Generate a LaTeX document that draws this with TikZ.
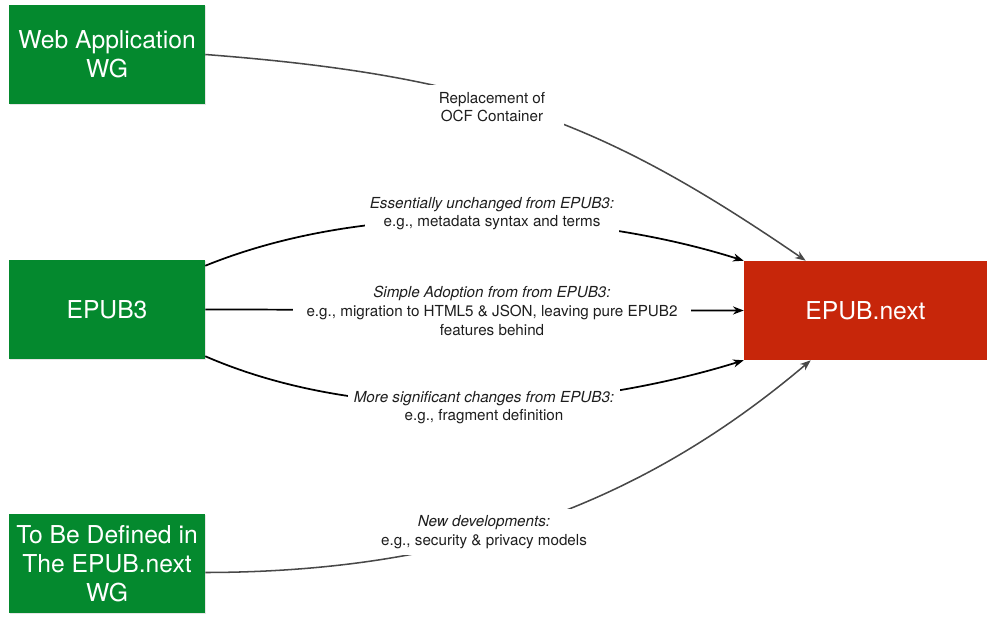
\documentclass[tikz,border=0pt]{standalone}
\usepackage{fontspec}
\setmainfont{TeX Gyre Heros}
\usetikzlibrary{arrows.meta,calc,shadows}
\definecolor{boxgreen}{RGB}{4,137,46}
\definecolor{boxred}{RGB}{199,38,10}
\definecolor{linegray}{RGB}{72,72,72}
\definecolor{lbltext}{RGB}{30,30,30}
\begin{document}
\begin{tikzpicture}[x=0.75pt,y=-0.75pt,
  wgbox/.style={fill=boxgreen,text=white,minimum width=147pt,minimum height=74.25pt,
    inner sep=0pt,align=center,font=\fontsize{18.5}{21.75}\selectfont,
    drop shadow={shadow xshift=0.4pt,shadow yshift=-0.6pt,opacity=0.2}},
  nextbox/.style={fill=boxred,text=white,minimum width=182.25pt,minimum height=74.25pt,
    inner sep=0pt,align=center,font=\fontsize{18.5}{21.75}\selectfont},
  lbl/.style={fill=white,align=center,text=lbltext,font=\fontsize{11.4}{14}\selectfont,inner ysep=2pt},
  conn/.style={line width=1.3pt,-{Stealth[length=8pt,width=6pt,inset=2.5pt]}},
  gconn/.style={conn,draw=linegray,line width=1.15pt}]
\useasboundingbox (0,0) rectangle (995,620);

\node[wgbox] (web) at (107,54.5) {Web Application\\WG};
\node[wgbox] (epub) at (107,309.5) {EPUB3};
\node[wgbox] (tbd) at (107,563.5) {To Be Defined in\\The EPUB.next\\WG};
\node[nextbox] (next) at (865.5,310.5) {EPUB.next};

\coordinate (nextTop) at ($(next.north west)+(62,0)$);
\coordinate (nextBot) at ($(next.south west)+(67,0)$);

\draw[gconn] (web.east) .. controls (487,76) and (606,124) .. (nextTop);
\draw[conn] ($(epub.north east)+(0,6)$) .. controls (380,195) and (600,215) .. (next.north west);
\draw[conn] (epub.east) -- (next.west);
\draw[conn] ($(epub.south east)+(0,-3)$) .. controls (380,432) and (600,405) .. (next.south west);
\draw[gconn] ($(tbd.east)+(0,9)$) .. controls (455,572) and (640,505) .. (nextBot);

\node[lbl,inner xsep=14pt,inner ysep=5pt] (l1) at (492,107) {Replacement of\\OCF Container};
\node[lbl,inner xsep=4pt] (l2) at (492,213.5) {\textit{Essentially unchanged from EPUB3:}\\e.g., metadata syntax and terms};
\node[lbl,inner xsep=10pt] (l3) at (492,311) {\textit{Simple Adoption from from EPUB3:}\\e.g., migration to HTML5 \& JSON, leaving pure EPUB2\\features behind};
\node[lbl,inner xsep=4pt] (l4) at (484,407.5) {\textit{More significant changes from EPUB3:}\\e.g., fragment definition};
\node[lbl,inner xsep=4pt,inner ysep=5pt] (l5) at (484,532) {\textit{New developments:}\\e.g., security \& privacy models};
\end{tikzpicture}
\end{document}
